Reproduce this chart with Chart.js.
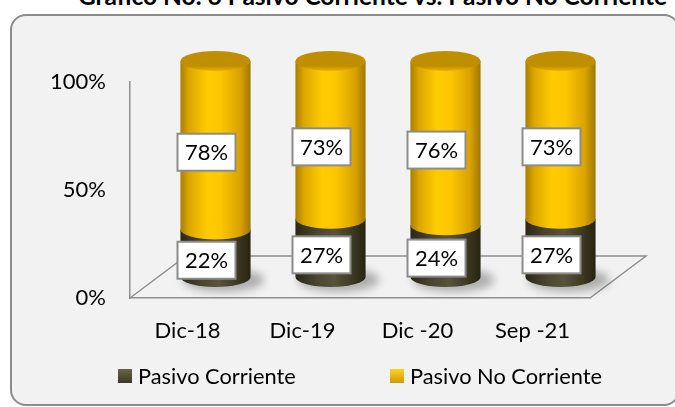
<!DOCTYPE html>
<html>
<head>
<meta charset="utf-8">
<script src="https://cdn.jsdelivr.net/npm/chart.js@4"></script>
<style>
  html,body{margin:0;padding:0;background:#fff;width:675px;height:407px;overflow:hidden;font-family:Lato,sans-serif}
  #title{position:absolute;left:78px;top:-16px;font:bold 24.5px Lato,sans-serif;line-height:24px;white-space:nowrap;color:#000}
  #box{position:absolute;left:10px;top:14px;width:666px;height:388px;border:2px solid #8c8c8c;border-radius:16px;background:#f2f2f2}
  #chart{position:absolute;left:0;top:0}
</style>
</head>
<body>
<div id="title">Gráfico No. 6 Pasivo Corriente vs. Pasivo No Corriente</div>
<div id="box"></div>
<canvas id="chart" width="675" height="407"></canvas>
<script>
/* =====  data  ===== */
const categories        = ['Dic-18', 'Dic-19', 'Dic -20', 'Sep -21'];
const pasivoCorriente   = [22, 27, 24, 27];
const pasivoNoCorriente = [78, 73, 76, 73];
const yTicks            = [0, 50, 100];

/* =====  look  ===== */
const FONT = 'Lato, sans-serif';
const DX = 28, DY = -21;          // half depth of the 3d floor, cylinders sit there
const RY = 10;                    // ellipse half-height of the cylinders
const palettes = [
  { body: [[0,'#2a2716'],[0.3,'#4a4530'],[0.55,'#58533a'],[0.8,'#3e3a24'],[1,'#26230f']],
    cap:  ['#4a4530','#5c573c'], legend: ['#6a6446','#3b3722'] },
  { body: [[0,'#a87e00'],[0.12,'#dba600'],[0.38,'#ffcc00'],[0.58,'#fcc600'],[0.85,'#d9a200'],[1,'#a07700']],
    cap:  ['#c08f00','#e8b300'], legend: ['#ffd21f','#d09a00'] }
];

function cylinderBody(ctx, cx, top, bot, rx, pal) {
  const g = ctx.createLinearGradient(cx - rx, 0, cx + rx, 0);
  pal.body.forEach(([o, c]) => g.addColorStop(o, c));
  ctx.fillStyle = g;
  ctx.beginPath();
  ctx.moveTo(cx - rx, top);
  ctx.lineTo(cx - rx, bot);
  ctx.ellipse(cx, bot, rx, RY, 0, Math.PI, 0, true);
  ctx.lineTo(cx + rx, top);
  ctx.closePath();
  ctx.fill();
}

function cylinderCap(ctx, cx, top, rx, pal) {
  const g = ctx.createLinearGradient(0, top - RY, 0, top + RY);
  g.addColorStop(0, pal.cap[0]);
  g.addColorStop(0.75, pal.cap[0]);
  g.addColorStop(1, pal.cap[1]);
  ctx.fillStyle = g;
  ctx.beginPath();
  ctx.ellipse(cx, top, rx, RY, 0, 0, Math.PI * 2);
  ctx.fill();
}

/* floor + cylinders, drawn from the bar elements the library lays out */
const cylinders = {
  id: 'cylinders',
  beforeDatasetsDraw(chart) {
    const { ctx, chartArea: a } = chart;
    ctx.save();
    ctx.strokeStyle = '#8f8f8f';
    ctx.lineWidth = 1.5;
    ctx.beginPath();
    ctx.moveTo(a.left, a.bottom);
    ctx.lineTo(a.left + 2 * DX, a.bottom + 2 * DY);
    ctx.lineTo(a.right + 2 * DX, a.bottom + 2 * DY);
    ctx.lineTo(a.right, a.bottom);
    ctx.stroke();

    // soft shadows under each cylinder
    const base = chart.getDatasetMeta(0).data;
    ctx.filter = 'blur(4px)';
    ctx.fillStyle = 'rgba(0,0,0,0.28)';
    base.forEach(el => {
      ctx.beginPath();
      ctx.ellipse(el.x + DX + 8, el.base + DY + 3, el.width / 2 + 6, RY + 2, 0, 0, Math.PI * 2);
      ctx.fill();
    });
    ctx.filter = 'none';

    const n = chart.data.datasets.length;
    chart.data.datasets.forEach((ds, i) => {
      chart.getDatasetMeta(i).data.forEach(el => {
        const cx = el.x + DX, rx = el.width / 2;
        const top = el.y + DY, bot = el.base + DY;
        cylinderBody(ctx, cx, top, bot, rx, palettes[i]);
        if (i === n - 1) cylinderCap(ctx, cx, top, rx, palettes[i]);
      });
    });
    ctx.restore();
  },
  afterDatasetsDraw(chart) {
    const { ctx } = chart;
    ctx.save();
    ctx.font = '22px ' + FONT;
    ctx.textAlign = 'center';
    ctx.textBaseline = 'middle';
    chart.data.datasets.forEach((ds, i) => {
      chart.getDatasetMeta(i).data.forEach((el, j) => {
        const x = el.x + 19, y = (el.y + el.base) / 2 - 14;
        const w = 58, h = 37;
        ctx.fillStyle = '#fff';
        ctx.fillRect(x - w / 2, y - h / 2, w, h);
        ctx.strokeStyle = '#8c8c8c';
        ctx.lineWidth = 2;
        ctx.strokeRect(x - w / 2, y - h / 2, w, h);
        ctx.fillStyle = '#000';
        ctx.fillText(ds.data[j] + '%', x, y + 1);
      });
    });
    ctx.restore();
  },
  afterDraw(chart) {
    // legend, placed as in the original
    const { ctx } = chart;
    const spots = [118, 390], y = 376, s = 14;
    ctx.save();
    ctx.font = '21.8px ' + FONT;
    ctx.textBaseline = 'middle';
    chart.data.datasets.forEach((ds, i) => {
      const x = spots[i];
      const g = ctx.createLinearGradient(0, y - s / 2, 0, y + s / 2);
      g.addColorStop(0, palettes[i].legend[0]);
      g.addColorStop(1, palettes[i].legend[1]);
      ctx.fillStyle = g;
      ctx.fillRect(x, y - s / 2, s, s);
      ctx.fillStyle = '#000';
      ctx.fillText(ds.label, x + s + 6, y + 1);
    });
    ctx.restore();
  }
};

new Chart(document.getElementById('chart'), {
  type: 'bar',
  data: {
    labels: categories,
    datasets: [
      { label: 'Pasivo Corriente',    data: pasivoCorriente,   backgroundColor: 'rgba(0,0,0,0)', borderWidth: 0 },
      { label: 'Pasivo No Corriente', data: pasivoNoCorriente, backgroundColor: 'rgba(0,0,0,0)', borderWidth: 0 }
    ]
  },
  options: {
    responsive: false,
    devicePixelRatio: 1,
    animation: false,
    events: [],
    barPercentage: 0.61,
    categoryPercentage: 1,
    layout: { padding: { top: 82, right: 85, left: 0, bottom: 0 } },
    plugins: { legend: { display: false }, tooltip: { enabled: false } },
    scales: {
      x: {
        stacked: true,
        grid: { display: false, drawTicks: false },
        border: { display: true, color: '#8f8f8f', width: 1.5 },
        ticks: { color: '#000', font: { family: FONT, size: 22 }, padding: 20 },
        afterFit: s => { s.height = 109; }
      },
      y: {
        stacked: true,
        min: 0, max: 100,
        afterBuildTicks: s => { s.ticks = yTicks.map(v => ({ value: v })); },
        grid: { display: false, drawTicks: false },
        border: { display: true, color: '#8f8f8f', width: 1.5 },
        ticks: { color: '#000', font: { family: FONT, size: 22 }, padding: 24, callback: v => v + '%' },
        afterFit: s => { s.width = 130; }
      }
    }
  },
  plugins: [cylinders]
});
</script>
</body>
</html>
